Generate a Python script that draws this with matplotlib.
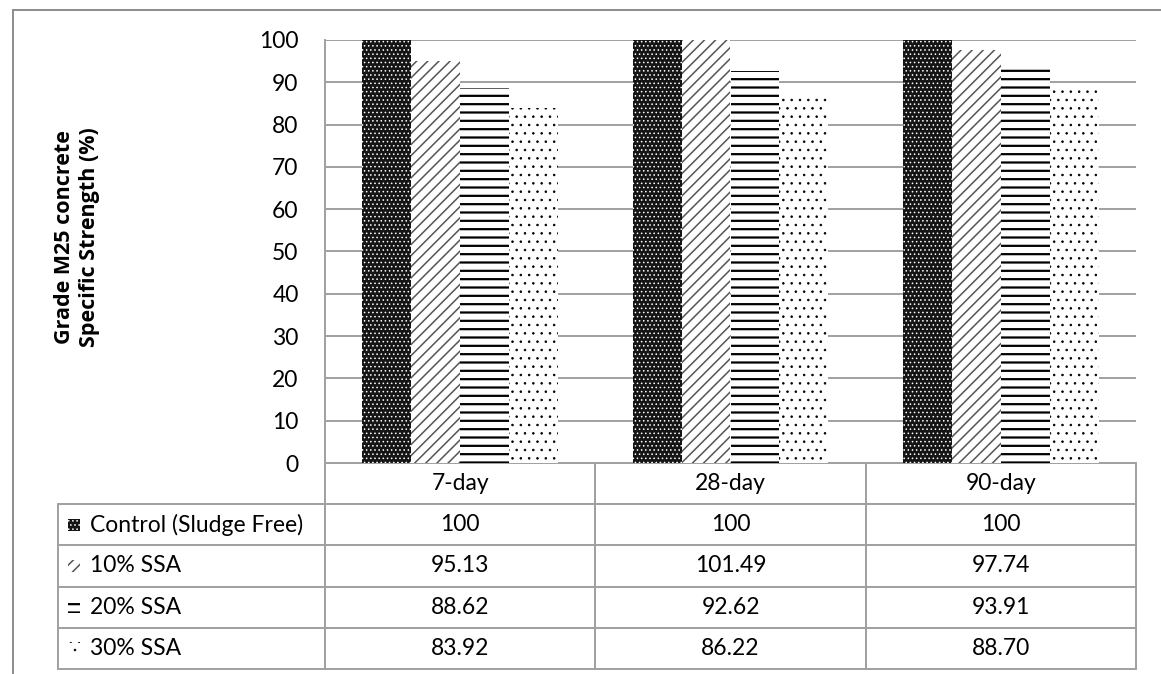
import numpy as np
import matplotlib
matplotlib.use("Agg")
import matplotlib.pyplot as plt
from matplotlib.patches import Rectangle

plt.rcParams['font.family'] = ['Lato', 'DejaVu Sans']

# data
ages = ['7-day', '28-day', '90-day']
mixes = ['Control (Sludge Free)', '10% SSA', '20% SSA', '30% SSA']
control = [100, 100, 100]
ssa10 = [95.13, 101.49, 97.74]
ssa20 = [88.62, 92.62, 93.91]
ssa30 = [83.92, 86.22, 88.70]
value_text = [['100', '100', '100'],
              ['95.13', '101.49', '97.74'],
              ['88.62', '92.62', '93.91'],
              ['83.92', '86.22', '88.70']]

# fill / hatch / hatch colour / hatch width for each mix
styles = [('#151515', '....', 'white', 0.6),
          ('white', '///', '#555555', 1.1),
          ('white', '--', 'black', 1.6),
          ('white', '..', 'black', 0.6)]

W, H = 1161, 674
fig = plt.figure(figsize=(W / 100, H / 100), dpi=100)
ax = fig.add_axes([325 / W, 1 - 463 / H, (1136 - 325) / W, (463 - 40) / H])

grid_col = '#a0a0a0'
x = np.arange(len(ages))
bw = 0.181
series = [control, ssa10, ssa20, ssa30]
for i, vals in enumerate(series):
    fc, hatch, hc, hlw = styles[i]
    plt.rcParams['hatch.linewidth'] = hlw
    ax.bar(x + (i - 1.5) * bw, vals, bw, color=fc, edgecolor=hc, hatch=hatch,
           linewidth=0, zorder=3)

ax.set_xlim(-0.5, 2.5)
ax.set_ylim(0, 100)
ax.set_yticks(range(0, 101, 10))
ax.set_xticks([])
ax.tick_params(axis='y', length=0, pad=19, labelsize=16.5)
ax.grid(axis='y', color=grid_col, linewidth=1.4, zorder=0)
for s in ['top', 'right', 'bottom']:
    ax.spines[s].set_visible(False)
ax.spines['left'].set_color(grid_col)
ax.spines['left'].set_linewidth(1.4)

# data table under the bars
cells = [[''] + ages] + [[m] + row for m, row in zip(mixes, value_text)]
tb_h = (669 - 463) / (463 - 40)
tb_x0 = (58 - 325) / (1136 - 325)
tbl = ax.table(cellText=cells, colWidths=[267, 270.3, 270.3, 270.3],
               cellLoc='center', bbox=[tb_x0, -tb_h, 1 - tb_x0, tb_h])
tbl.auto_set_font_size(False)
tbl.set_fontsize(16.5)
for (r, c), cell in tbl.get_celld().items():
    cell.set_edgecolor(grid_col)
    cell.set_linewidth(1.4)
    if r == 0 and c == 0:
        cell.visible_edges = ''
    if c == 0 and r > 0:
        cell._loc = 'left'
        cell.PAD = 0.12
        cell.get_text().set_ha('left')

# small legend keys in front of the row labels
key = 12 / (463 - 40)
for i in range(len(mixes)):
    fc, hatch, hc, hlw = styles[i]
    plt.rcParams['hatch.linewidth'] = hlw
    yc = -tb_h * (i + 1.5) / 5
    ax.add_patch(Rectangle((tb_x0 + 10 / 811, yc - key / 2), 12 / 811, key,
                           facecolor=fc, edgecolor=hc, hatch=hatch, linewidth=0,
                           transform=ax.transAxes, clip_on=False))

fig.text(77 / W, 1 - 237 / H, 'Grade M25 concrete\nSpecific Strength (%)',
         rotation=90, ha='center', va='center', multialignment='center',
         fontsize=15.5, fontweight='bold', linespacing=1.2,
         family=['Open Sans', 'DejaVu Sans'])

# outer chart border
fig.patches.append(Rectangle((13 / W, -0.02), 1.1, 1 - 10 / H + 0.02,
                             transform=fig.transFigure, fill=False,
                             edgecolor='#8c8c8c', linewidth=1.4))

fig.savefig('out.png', dpi=100)
